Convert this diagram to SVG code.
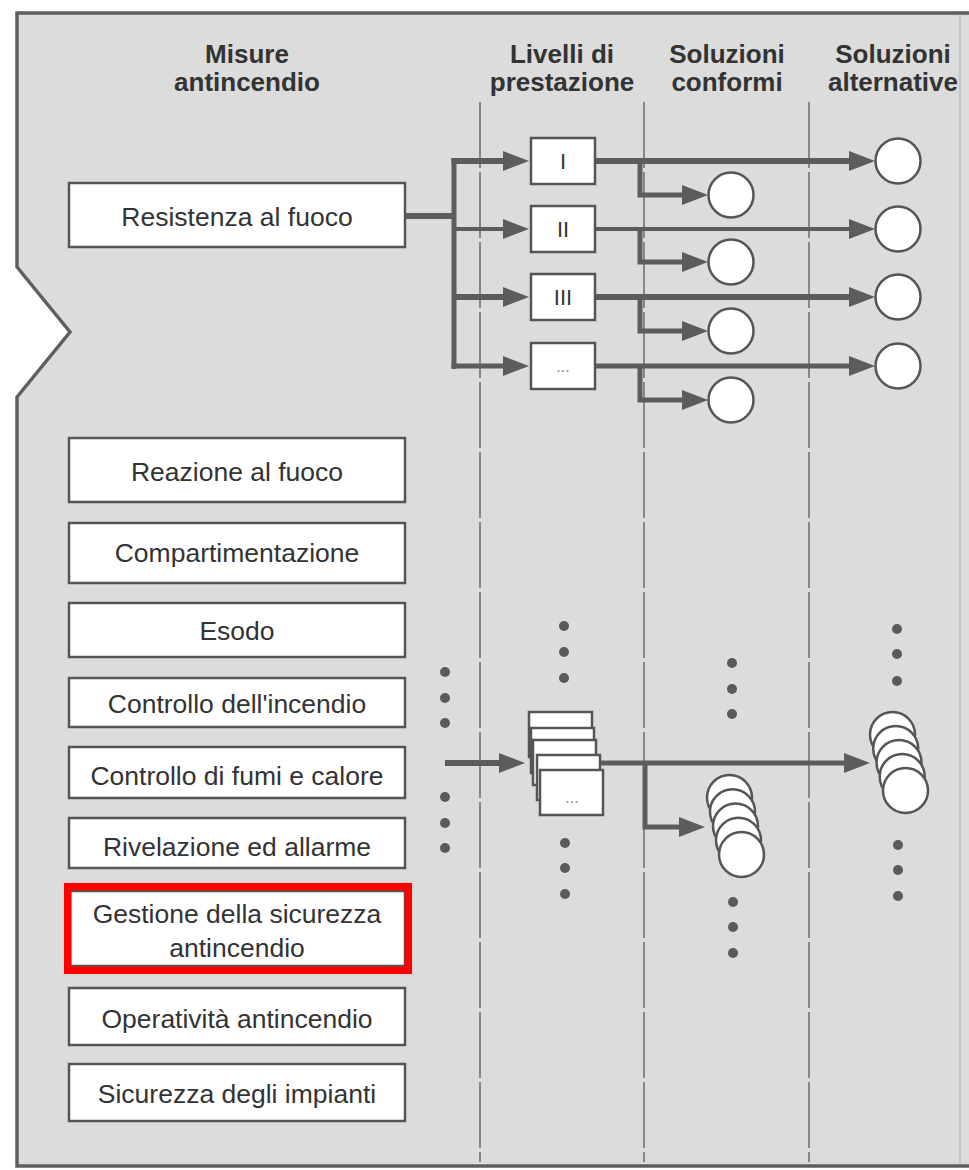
<svg xmlns="http://www.w3.org/2000/svg" width="969" height="1170" viewBox="0 0 969 1170">
<style>
.frame{fill:#dcdcdc;stroke:none}
.border{fill:none;stroke:#5e5e5e;stroke-width:3.5;stroke-linejoin:miter}
.col{stroke:#6a6a6a;stroke-width:1.5;stroke-dasharray:66 4;fill:none}
.hdr{font-family:"Liberation Sans",Arial,sans-serif;font-weight:bold;font-size:26px;fill:#333;text-anchor:middle}
.box{fill:#fff;stroke:#555;stroke-width:2.5}
.lbl{font-family:"Liberation Sans",Arial,sans-serif;font-size:26.5px;fill:#333;text-anchor:middle}
.lvl{font-family:"Liberation Sans",Arial,sans-serif;font-size:22px;fill:#333;text-anchor:middle}
.ell{font-family:"Liberation Sans",Arial,sans-serif;font-size:16px;fill:#8a8a8a;text-anchor:middle}
.circ{fill:#fff;stroke:#555;stroke-width:2.5}
.ln{fill:none;stroke:#5c5c5c;stroke-linejoin:miter}
.dot{fill:#5a5a5a}
.hl{fill:none;stroke:#ff0000;stroke-width:7.5}
</style>
<defs>
<marker id="ah" viewBox="0 0 26 20" refX="8" refY="10" markerWidth="26" markerHeight="20" markerUnits="userSpaceOnUse" orient="auto">
<path d="M0,0 L26,10 L0,20 z" fill="#5c5c5c"/>
</marker>
</defs>

<rect x="0" y="0" width="969" height="1170" fill="#fff"/>
<polygon class="frame" points="17,13 969,13 969,1166 17,1166 17,397 70,332 17,267"/>
<path class="border" d="M969,13 H17 V267 L70,332 L17,397 V1166 H969"/>
<line x1="960" y1="15" x2="960" y2="1164" stroke="#bcbcbc" stroke-width="1.5"/>

<g id="columns">
<line class="col" x1="480" y1="102" x2="480" y2="1162"/>
<line class="col" x1="644" y1="102" x2="644" y2="1162"/>
<line class="col" x1="809" y1="102" x2="809" y2="1162"/>
</g>

<g id="headers">
<text class="hdr" x="247" y="63">Misure</text>
<text class="hdr" x="247" y="91">antincendio</text>
<text class="hdr" x="562" y="63">Livelli di</text>
<text class="hdr" x="562" y="91">prestazione</text>
<text class="hdr" x="727" y="63">Soluzioni</text>
<text class="hdr" x="727" y="91">conformi</text>
<text class="hdr" x="893" y="63">Soluzioni</text>
<text class="hdr" x="893" y="91">alternative</text>
</g>

<g id="connectors">
<path class="ln" stroke-width="6" d="M405,216 H454"/>
<path class="ln" stroke-width="5" d="M454,158.5 V369"/>
<path class="ln" stroke-width="6" d="M451.5,161 H511" marker-end="url(#ah)"/>
<path class="ln" stroke-width="4" d="M454,229 H511" marker-end="url(#ah)"/>
<path class="ln" stroke-width="6" d="M454,297 H511" marker-end="url(#ah)"/>
<path class="ln" stroke-width="5" d="M451.5,366 H511" marker-end="url(#ah)"/>

<path class="ln" stroke-width="6" d="M595,161 H857" marker-end="url(#ah)"/>
<path class="ln" stroke-width="4" d="M595,229 H857" marker-end="url(#ah)"/>
<path class="ln" stroke-width="6" d="M595,297 H857" marker-end="url(#ah)"/>
<path class="ln" stroke-width="5" d="M595,366 H857" marker-end="url(#ah)"/>

<path class="ln" stroke-width="5" d="M640,161 V195 H690" marker-end="url(#ah)"/>
<path class="ln" stroke-width="5" d="M640,229 V262 H690" marker-end="url(#ah)"/>
<path class="ln" stroke-width="5" d="M640,297 V331 H690" marker-end="url(#ah)"/>
<path class="ln" stroke-width="5" d="M640,366 V400 H690" marker-end="url(#ah)"/>

<path class="ln" stroke-width="6" d="M445,763 H507" marker-end="url(#ah)"/>
<path class="ln" stroke-width="5" d="M601,763 H852" marker-end="url(#ah)"/>
<path class="ln" stroke-width="5" d="M645,763 V827 H687" marker-end="url(#ah)"/>
</g>

<g id="n-resistenza"><rect class="box" x="69" y="183" width="336" height="64"/><text class="lbl" x="237" y="226">Resistenza al fuoco</text></g>
<g id="n-reazione"><rect class="box" x="69" y="438" width="336" height="64"/><text class="lbl" x="237" y="481">Reazione al fuoco</text></g>
<g id="n-compart"><rect class="box" x="69" y="523" width="336" height="60"/><text class="lbl" x="237" y="562">Compartimentazione</text></g>
<g id="n-esodo"><rect class="box" x="69" y="603" width="336" height="54"/><text class="lbl" x="237" y="640">Esodo</text></g>
<g id="n-controllo-incendio"><rect class="box" x="69" y="678" width="336" height="49"/><text class="lbl" x="237" y="713">Controllo dell'incendio</text></g>
<g id="n-controllo-fumi"><rect class="box" x="69" y="747" width="336" height="51"/><text class="lbl" x="237" y="785">Controllo di fumi e calore</text></g>
<g id="n-rivelazione"><rect class="box" x="69" y="818" width="336" height="50"/><text class="lbl" x="237" y="856">Rivelazione ed allarme</text></g>
<g id="n-gestione"><rect class="box" x="70" y="891" width="335" height="75"/><text class="lbl" x="237" y="923">Gestione della sicurezza</text><text class="lbl" x="237" y="957">antincendio</text><rect class="hl" x="67.7" y="886.7" width="340.6" height="83.6"/></g>
<g id="n-operativita"><rect class="box" x="69" y="988" width="336" height="57"/><text class="lbl" x="237" y="1028">Operatività antincendio</text></g>
<g id="n-impianti"><rect class="box" x="69" y="1064" width="336" height="57"/><text class="lbl" x="237" y="1103">Sicurezza degli impianti</text></g>

<g id="n-lvl-1"><rect class="box" x="531" y="138" width="64" height="46"/><text class="lvl" x="563" y="169">I</text></g>
<g id="n-lvl-2"><rect class="box" x="531" y="206" width="64" height="46"/><text class="lvl" x="563" y="237">II</text></g>
<g id="n-lvl-3"><rect class="box" x="531" y="274" width="64" height="46"/><text class="lvl" x="563" y="305">III</text></g>
<g id="n-lvl-4"><rect class="box" x="531" y="343" width="64" height="46"/><text class="ell" x="563" y="372">...</text></g>

<g id="n-conf-1"><circle class="circ" cx="731" cy="195" r="22.5"/></g>
<g id="n-conf-2"><circle class="circ" cx="731" cy="262" r="22.5"/></g>
<g id="n-conf-3"><circle class="circ" cx="731" cy="331" r="22.5"/></g>
<g id="n-conf-4"><circle class="circ" cx="731" cy="400" r="22.5"/></g>

<g id="n-alt-1"><circle class="circ" cx="898" cy="161" r="22.5"/></g>
<g id="n-alt-2"><circle class="circ" cx="898" cy="229" r="22.5"/></g>
<g id="n-alt-3"><circle class="circ" cx="898" cy="297" r="22.5"/></g>
<g id="n-alt-4"><circle class="circ" cx="898" cy="366" r="22.5"/></g>

<g id="n-lvl-stack">
<rect class="box" x="529" y="712" width="63" height="45"/>
<rect class="box" x="531" y="728" width="63" height="45"/>
<rect class="box" x="533" y="740" width="63" height="45"/>
<rect class="box" x="537" y="755" width="63" height="45"/>
<rect class="box" x="540" y="770" width="63" height="45"/>
<text class="ell" x="572" y="803">...</text>
</g>

<g id="n-conf-stack">
<circle class="circ" cx="729.5" cy="797.5" r="22.5"/>
<circle class="circ" cx="732.5" cy="811.7" r="22.5"/>
<circle class="circ" cx="735.5" cy="826" r="22.5"/>
<circle class="circ" cx="738.5" cy="840.2" r="22.5"/>
<circle class="circ" cx="741.5" cy="854.5" r="22.5"/>
</g>

<g id="n-alt-stack">
<circle class="circ" cx="892.5" cy="734.5" r="22.5"/>
<circle class="circ" cx="895.7" cy="748.5" r="22.5"/>
<circle class="circ" cx="899" cy="762.5" r="22.5"/>
<circle class="circ" cx="902.2" cy="776.5" r="22.5"/>
<circle class="circ" cx="905.5" cy="790.5" r="22.5"/>
</g>

<g id="ellipsis-dots">
<circle class="dot" cx="445" cy="672" r="5"/><circle class="dot" cx="445" cy="698" r="5"/><circle class="dot" cx="445" cy="723" r="5"/>
<circle class="dot" cx="445" cy="797" r="5"/><circle class="dot" cx="445" cy="823" r="5"/><circle class="dot" cx="445" cy="848" r="5"/>
<circle class="dot" cx="564" cy="626" r="5"/><circle class="dot" cx="564" cy="652" r="5"/><circle class="dot" cx="564" cy="678" r="5"/>
<circle class="dot" cx="565" cy="843" r="5"/><circle class="dot" cx="565" cy="868" r="5"/><circle class="dot" cx="565" cy="894" r="5"/>
<circle class="dot" cx="732" cy="663" r="5"/><circle class="dot" cx="732" cy="689" r="5"/><circle class="dot" cx="732" cy="714" r="5"/>
<circle class="dot" cx="733" cy="902" r="5"/><circle class="dot" cx="733" cy="927" r="5"/><circle class="dot" cx="733" cy="953" r="5"/>
<circle class="dot" cx="897" cy="629" r="5"/><circle class="dot" cx="897" cy="654" r="5"/><circle class="dot" cx="897" cy="681" r="5"/>
<circle class="dot" cx="898" cy="845" r="5"/><circle class="dot" cx="898" cy="870" r="5"/><circle class="dot" cx="898" cy="896" r="5"/>
</g>
</svg>
